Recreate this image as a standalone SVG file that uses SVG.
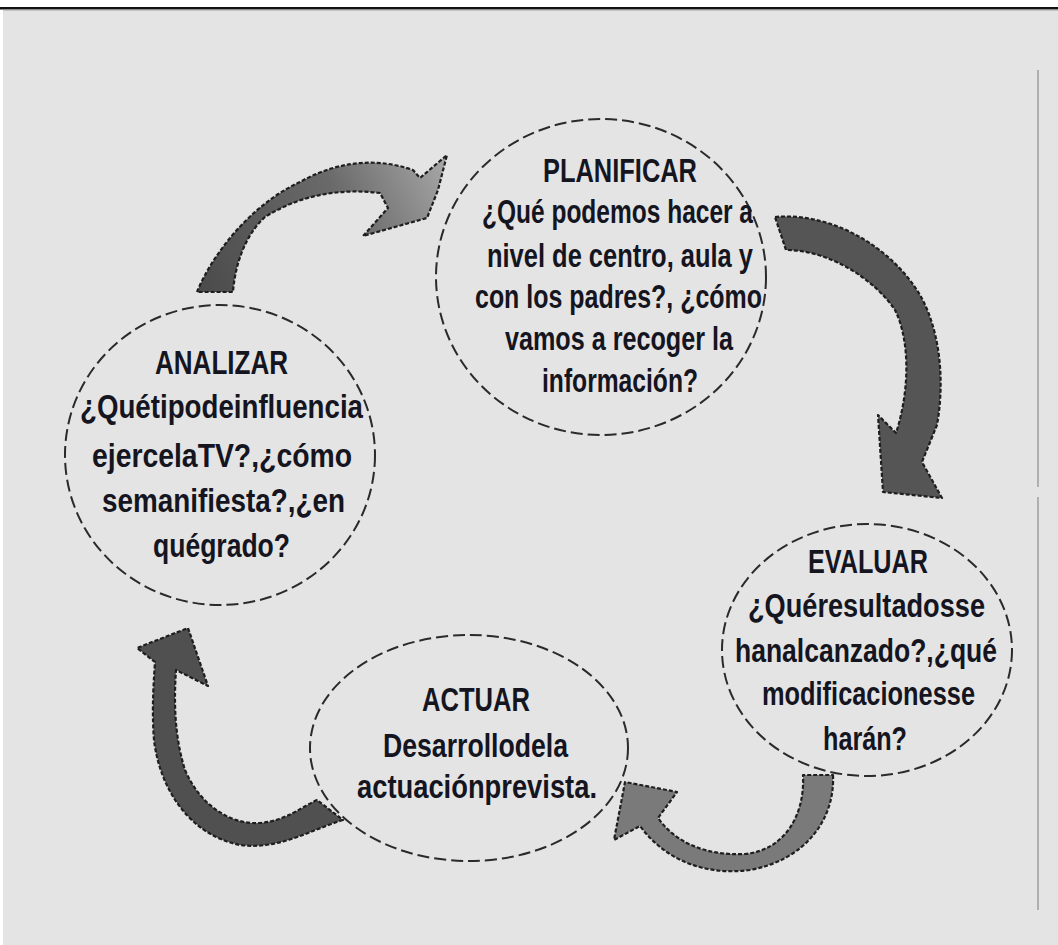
<svg xmlns="http://www.w3.org/2000/svg" width="1058" height="945" viewBox="0 0 1058 945">
<style>
.node{fill:none;stroke:#2a2a2a;stroke-width:2;stroke-dasharray:12 5}
.t{font-family:"Liberation Sans Narrow","Liberation Sans",Arial,sans-serif;font-weight:bold;font-size:34px;fill:#15151f}
.arrow{stroke:#1e1e1e;stroke-width:2.2;stroke-dasharray:4 2;stroke-linejoin:round}
</style>
<defs>
<linearGradient id="g1" x1="197" y1="292" x2="447" y2="160" gradientUnits="userSpaceOnUse">
<stop offset="0" stop-color="#4a4a4a"/>
<stop offset="0.6" stop-color="#6a6a6a"/>
<stop offset="1" stop-color="#a8a8a8"/>
</linearGradient>
</defs>
<rect x="0" y="0" width="1058" height="945" fill="#e4e4e4"/>
<rect x="0" y="0" width="1058" height="7" fill="#ffffff"/>
<rect x="0" y="0" width="3" height="945" fill="#ffffff"/>
<rect x="0" y="7" width="1058" height="2.5" fill="#111111"/>
<rect x="3" y="9.5" width="1055" height="1" fill="#a0a0a0"/>
<line x1="1038" y1="70" x2="1038" y2="487" stroke="#b0b0b0" stroke-width="2"/>
<line x1="1038" y1="497" x2="1038" y2="910" stroke="#b0b0b0" stroke-width="2"/>

<g id="connectors">
<path class="arrow" fill="url(#g1)" d="M197,292 C212,255 250,205 300,182 C330,165 370,155 413,170 L420,178 L447,155 L438,190 L427,218 L363,236 L388,208 L380,193 C340,188 300,195 265,217 C245,235 235,265 233,292 Z"/>
<path class="arrow" fill="#555555" d="M775,217 C830,212 890,245 920,295 C940,330 945,380 937,425 L922,462 L942,498 L883,492 L878,415 L896,433 C910,390 910,340 895,310 C875,280 830,250 786,250 Z"/>
<path class="arrow" fill="#7a7a7a" d="M833,775 C835,820 805,860 750,870 C705,876 665,860 640,826 L614,840 L625,782 L677,792 L658,818 C675,842 705,856 745,854 C785,850 805,815 803,775 Z"/>
<path class="arrow" fill="#505050" d="M343,820 C310,830 280,850 240,845 C190,835 160,790 154,740 C152,715 153,690 155,662 L137,648 L188,628 L208,686 L176,670 C174,700 174,735 185,770 C200,805 230,825 260,823 C285,821 300,808 317,800 Z"/>
</g>

<g id="planificar">
<ellipse class="node" cx="601" cy="277" rx="165" ry="158"/>
<text class="t" x="543" y="182" textLength="154" lengthAdjust="spacingAndGlyphs">PLANIFICAR</text>
<text class="t" x="482" y="223" textLength="271" lengthAdjust="spacingAndGlyphs">¿Qué podemos hacer a</text>
<text class="t" x="487" y="267" textLength="266" lengthAdjust="spacingAndGlyphs">nivel de centro, aula y</text>
<text class="t" x="475" y="308" textLength="287" lengthAdjust="spacingAndGlyphs">con los padres?, ¿cómo</text>
<text class="t" x="505" y="350" textLength="228" lengthAdjust="spacingAndGlyphs">vamos a recoger la</text>
<text class="t" x="542" y="392" textLength="156" lengthAdjust="spacingAndGlyphs">información?</text>
</g>

<g id="analizar">
<ellipse class="node" cx="220" cy="455" rx="155" ry="150"/>
<text class="t" x="155" y="374" textLength="133" lengthAdjust="spacingAndGlyphs">ANALIZAR</text>
<text class="t" x="80" y="418" textLength="283" lengthAdjust="spacingAndGlyphs">¿Quétipodeinfluencia</text>
<text class="t" x="92" y="467" textLength="260" lengthAdjust="spacingAndGlyphs">ejercelaTV?,¿cómo</text>
<text class="t" x="102" y="512" textLength="243" lengthAdjust="spacingAndGlyphs">semanifiesta?,¿en</text>
<text class="t" x="153" y="557" textLength="137" lengthAdjust="spacingAndGlyphs">quégrado?</text>
</g>

<g id="evaluar">
<ellipse class="node" cx="867" cy="650" rx="145" ry="126"/>
<text class="t" x="808" y="573" textLength="120" lengthAdjust="spacingAndGlyphs">EVALUAR</text>
<text class="t" x="748" y="617" textLength="237" lengthAdjust="spacingAndGlyphs">¿Quéresultadosse</text>
<text class="t" x="735" y="662" textLength="262" lengthAdjust="spacingAndGlyphs">hanalcanzado?,¿qué</text>
<text class="t" x="762" y="705" textLength="213" lengthAdjust="spacingAndGlyphs">modificacionesse</text>
<text class="t" x="823" y="750" textLength="84" lengthAdjust="spacingAndGlyphs">harán?</text>
</g>

<g id="actuar">
<ellipse class="node" cx="469" cy="748" rx="159" ry="113"/>
<text class="t" x="422" y="711" textLength="108" lengthAdjust="spacingAndGlyphs">ACTUAR</text>
<text class="t" x="383" y="757" textLength="185" lengthAdjust="spacingAndGlyphs">Desarrollodela</text>
<text class="t" x="357" y="798" textLength="240" lengthAdjust="spacingAndGlyphs">actuaciónprevista.</text>
</g>
</svg>
